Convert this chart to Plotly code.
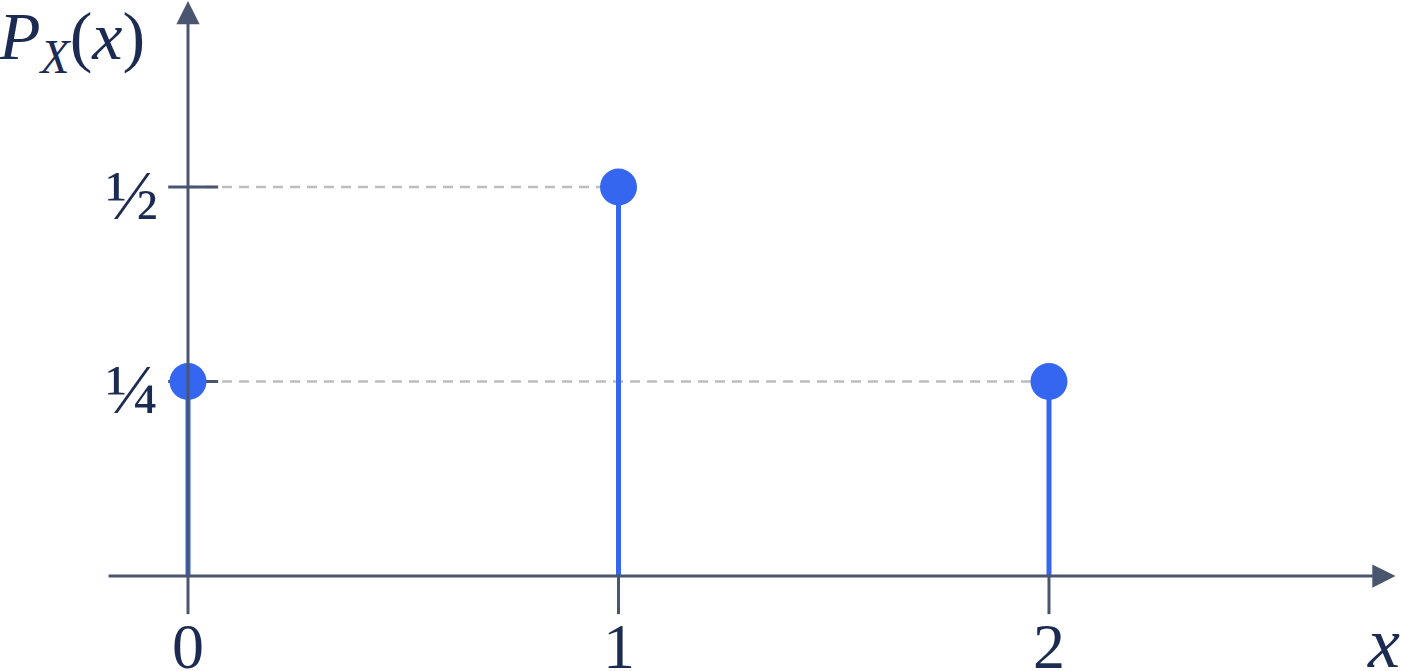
import plotly.graph_objects as go

# ---- data ----
x_vals = [0, 1, 2]
p_vals = [0.25, 0.5, 0.25]
x_tick_vals = [0, 1, 2]
x_tick_text = ["0", "1", "2"]
y_tick_vals = [0.25, 0.5]
y_tick_text = ["¼", "½"]

# ---- styles ----
BLUE = "#3466f0"
AXIS = "#4a5670"
TEXT = "#1c2b52"
DASH = "#bdbdbd"
FONT = "Liberation Serif"

X_RANGE = [-0.4367, 2.820]
Y_RANGE = [-0.1221, 0.7404]
X_AXIS_START = -0.188
X_AXIS_END = 2.805
Y_AXIS_END = 0.739
TICK_LEN_Y = 0.049   # length of x ticks in y units
YTICK_L = 0.046      # y tick extents in x units
YTICK_R = 0.070

fig = go.Figure()

# dashed guides from y-axis to each point
gx, gy = [], []
for x, p in zip(x_vals, p_vals):
    gx += [0, x, None]
    gy += [p, p, None]
fig.add_trace(go.Scatter(x=gx, y=gy, mode="lines",
                         line=dict(color=DASH, width=2.5, dash="10px,7px"),
                         hoverinfo="skip", showlegend=False))

# x ticks
tx, ty = [], []
for v in x_tick_vals:
    tx += [v, v, None]
    ty += [0, -TICK_LEN_Y, None]
fig.add_trace(go.Scatter(x=tx, y=ty, mode="lines", line=dict(color=AXIS, width=3),
                         hoverinfo="skip", showlegend=False))

# y ticks
yx, yy = [], []
for v in y_tick_vals:
    yx += [-YTICK_L, YTICK_R, None]
    yy += [v, v, None]
fig.add_trace(go.Scatter(x=yx, y=yy, mode="lines", line=dict(color=AXIS, width=3),
                         hoverinfo="skip", showlegend=False))

# axes with arrows
fig.add_annotation(x=X_AXIS_END, y=0, ax=X_AXIS_START, ay=0, axref="x", ayref="y",
                   xref="x", yref="y", text="", showarrow=True, arrowhead=2,
                   arrowsize=1.55, arrowwidth=3, arrowcolor=AXIS)
fig.add_annotation(x=0, y=Y_AXIS_END, ax=0, ay=0, axref="x", ayref="y",
                   xref="x", yref="y", text="", showarrow=True, arrowhead=2,
                   arrowsize=1.55, arrowwidth=3, arrowcolor=AXIS)

# stems
sx, sy = [], []
for x, p in zip(x_vals, p_vals):
    sx += [x, x, None]
    sy += [0, p, None]
fig.add_trace(go.Scatter(x=sx, y=sy, mode="lines", line=dict(color=BLUE, width=5),
                         hoverinfo="skip", showlegend=False))
fig.add_trace(go.Scatter(x=x_vals, y=p_vals, mode="markers",
                         marker=dict(color=BLUE, size=37), cliponaxis=False,
                         showlegend=False))

# tick labels
for v, t in zip(x_tick_vals, x_tick_text):
    fig.add_annotation(x=v, y=0, xref="x", yref="y", text=t, showarrow=False,
                       yanchor="middle", yshift=-70,
                       font=dict(family=FONT, size=64, color=TEXT))
for v, t in zip(y_tick_vals, y_tick_text):
    fig.add_annotation(x=0, y=v, xref="x", yref="y", text=t, showarrow=False,
                       xanchor="right", yanchor="middle", xshift=-27, yshift=-8,
                       font=dict(family=FONT, size=70, color=TEXT))

# axis titles
fig.add_annotation(x=0, y=1, xref="paper", yref="paper", xanchor="left", yanchor="top",
                   text="<i>P<sub>X</sub></i>(<i>x</i>)", showarrow=False,
                   xshift=-4, yshift=4,
                   font=dict(family=FONT, size=68, color=TEXT))
fig.add_annotation(x=1, y=0, xref="paper", yref="paper", xanchor="right", yanchor="bottom",
                   text="<i>x</i>", showarrow=False, yshift=-14,
                   font=dict(family=FONT, size=72, color=TEXT))

fig.update_layout(width=1402, height=671,
                  margin=dict(l=0, r=0, t=0, b=0, pad=0, autoexpand=False),
                  plot_bgcolor="white", paper_bgcolor="white",
                  xaxis=dict(visible=False, range=X_RANGE, fixedrange=True),
                  yaxis=dict(visible=False, range=Y_RANGE, fixedrange=True),
                  showlegend=False)

fig.write_html("out.html", config={"displayModeBar": False},
               post_script="document.body.style.margin='0';document.body.style.overflow='hidden';")
